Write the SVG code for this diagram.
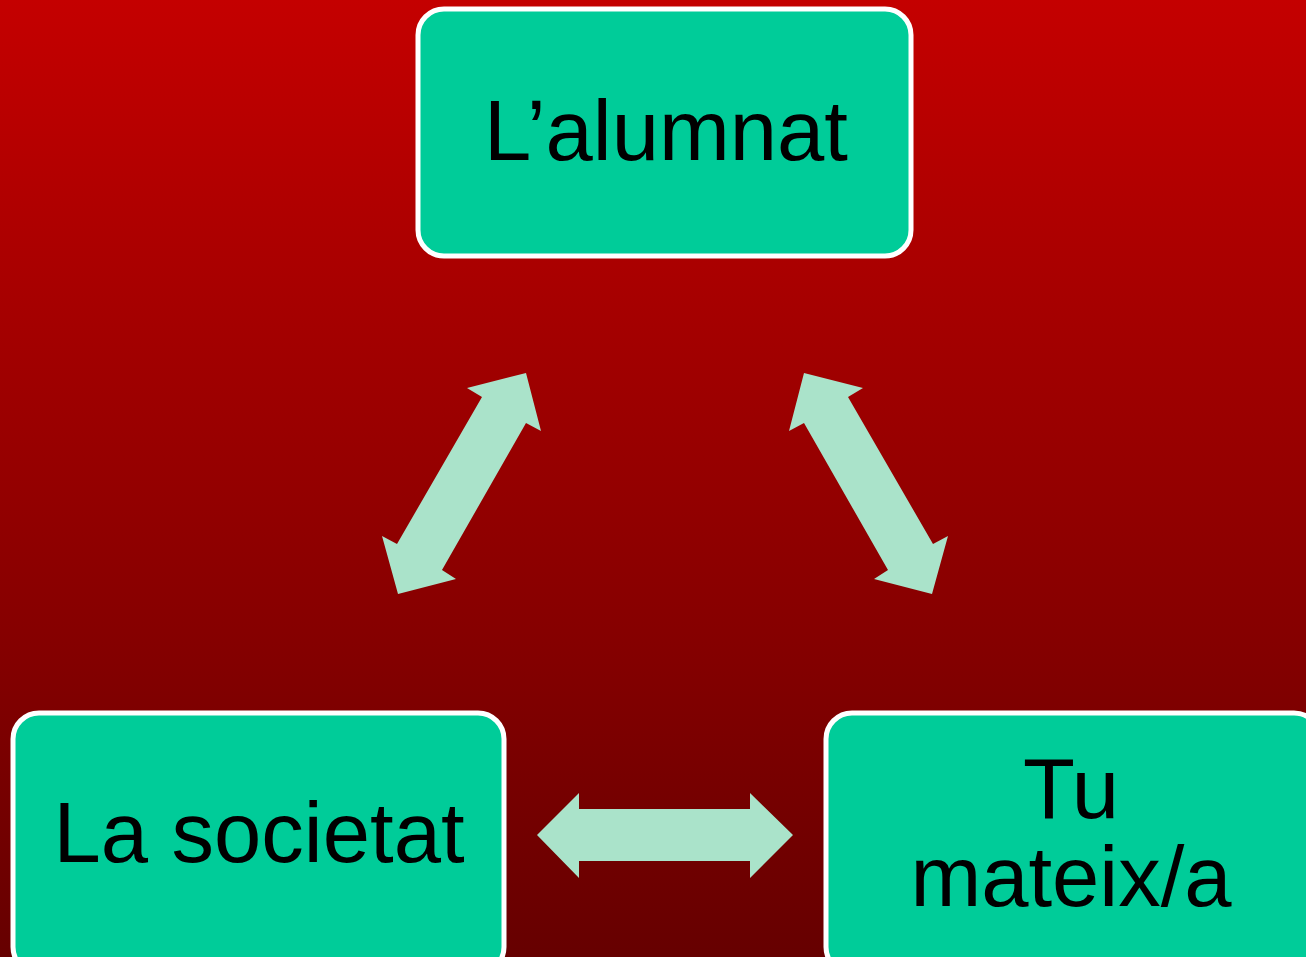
<svg xmlns="http://www.w3.org/2000/svg" width="1306" height="957" viewBox="0 0 1306 957">
<defs>
<linearGradient id="bg" x1="0" y1="0" x2="0" y2="1">
<stop offset="0" stop-color="#c40000"/>
<stop offset="1" stop-color="#660000"/>
</linearGradient>
<style>
.box{fill:#00cc99;stroke:#ffffff;stroke-width:5}
.lbl{font-family:"Liberation Sans",Arial,sans-serif;font-size:85px;fill:#000000;text-anchor:middle}
.arr{fill:#aae3ca}
</style>
</defs>
<rect x="0" y="0" width="1306" height="957" fill="url(#bg)"/>
<g id="connectors">
<polygon class="arr" points="526,373 541,431 526,423 442,570 456,579 398,594 382,536 397,544 482,397 467,388"/>
<polygon class="arr" points="804,373 789,431 804,423 888,570 874,579 932,594 948,536 933,544 848,397 863,388"/>
<polygon class="arr" points="537,835 579,793 579,809 750,809 750,793 793,835 750,878 750,861 579,861 579,878"/>
</g>
<g id="node-alumnat">
<rect class="box" x="418" y="9" width="493" height="247" rx="26"/>
<text class="lbl" x="666" y="160">L’alumnat</text>
</g>
<g id="node-societat">
<rect class="box" x="13" y="713" width="491" height="260" rx="26"/>
<text class="lbl" x="259" y="862">La societat</text>
</g>
<g id="node-tu">
<rect class="box" x="826" y="713" width="494" height="260" rx="26"/>
<text class="lbl" x="1071" y="818">Tu</text>
<text class="lbl" x="1071" y="906">mateix/a</text>
</g>
</svg>
